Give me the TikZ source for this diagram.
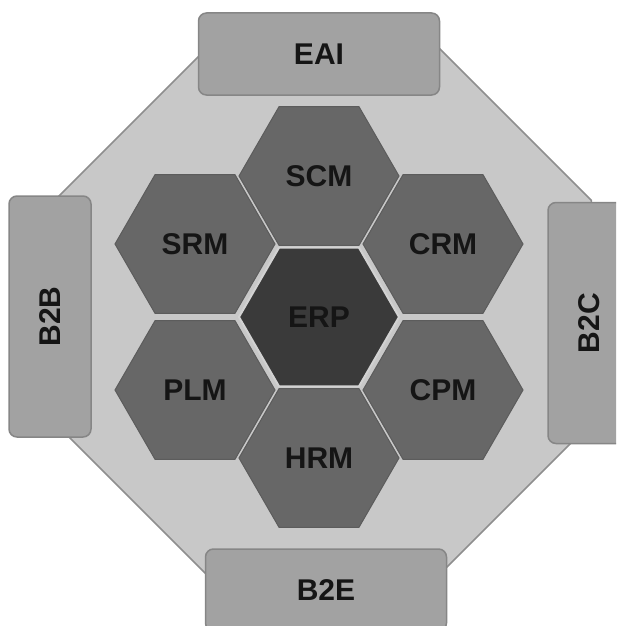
\documentclass[tikz,border=0pt]{standalone}
\usepackage{fontspec}
\setmainfont{Liberation Sans}
\usetikzlibrary{shapes,positioning}

\definecolor{ringfill}{HTML}{C8C8C8}
\definecolor{ringline}{HTML}{8E8E8E}
\definecolor{boxfill}{HTML}{A2A2A2}
\definecolor{boxline}{HTML}{868686}
\definecolor{hexfill}{HTML}{676767}
\definecolor{hexline}{HTML}{5C5C5C}
\definecolor{erpfill}{HTML}{3A3A3A}
\definecolor{erpline}{HTML}{D2D2D2}
\definecolor{labelcol}{HTML}{151515}

\begin{document}
\begin{tikzpicture}[x=1pt,y=-1pt,text=labelcol,font=\bfseries\fontsize{30}{30}\selectfont,
	ring/.style={regular polygon,regular polygon sides=8,minimum size=581pt,inner sep=0pt,fill=ringfill,draw=ringline,line width=1.5pt},
	channel/.style={rectangle,rounded corners=8pt,fill=boxfill,draw=boxline,line width=1.5pt,minimum width=241pt,minimum height=82pt,inner sep=0pt},
	module/.style={regular polygon,regular polygon sides=6,minimum size=160pt,inner sep=0pt,fill=hexfill,draw=hexline,line width=1pt},
	core/.style={module,fill=erpfill,draw=erpline,line width=2pt},
	node distance=141pt,on grid]
\useasboundingbox (0,0) rectangle (616,626);
\clip (0,0) rectangle (616,626);
% outer ring and the four channels
\node[ring] (ring) at (323,311.5) {};
\node[channel] (eai) at (319,54) {EAI};
\node[channel] (b2e) at (326,590) {B2E};
\node[channel,rotate=90] (b2b) at (50,316.5) {B2B};
\node[channel,rotate=90] (b2c) at (589,323) {B2C};
% hexagons round the core
\node[core] (erp) at (319,317) {ERP};
\node[module,above=of erp] (scm) {SCM};
\node[module,below=of erp] (hrm) {HRM};
\node[module,above left=73pt and 124pt of erp] (srm) {SRM};
\node[module,above right=73pt and 124pt of erp] (crm) {CRM};
\node[module,below left=73pt and 124pt of erp] (plm) {PLM};
\node[module,below right=73pt and 124pt of erp] (cpm) {CPM};
\end{tikzpicture}
\end{document}
